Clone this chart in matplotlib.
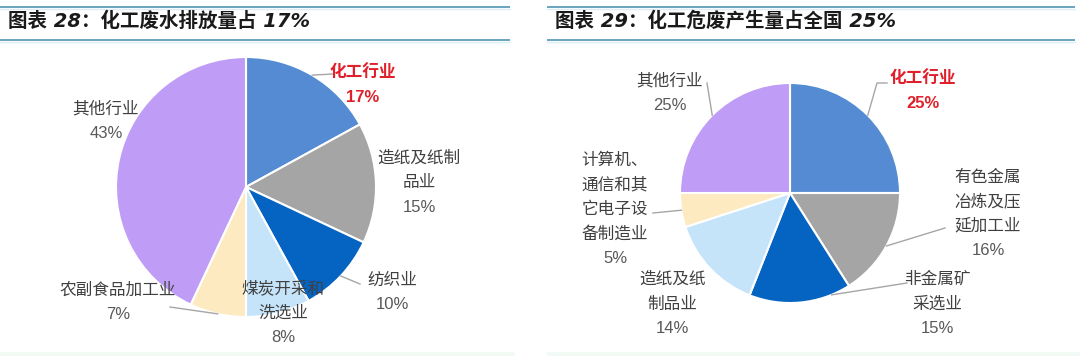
#!/usr/bin/env python3
"""
化工废水 / 危废 占比 pie charts (two panels)
"""

import numpy as np
import matplotlib
matplotlib.use('Agg')
import matplotlib.pyplot as plt

plt.rcParams['font.family'] = ['Noto Sans CJK SC', 'DejaVu Sans']

# ---- data ----
left_title = '图表 28：化工废水排放量占 17%'
left_labels = ['化工行业', '造纸及纸制\n品业', '纺织业', '煤炭开采和\n洗选业', '农副食品加工业', '其他行业']
left_values = [17, 15, 10, 8, 7, 43]

right_title = '图表 29：化工危废产生量占全国 25%'
right_labels = ['化工行业', '有色金属\n冶炼及压\n延加工业', '非金属矿\n采选业', '造纸及纸\n制品业',
                '计算机、\n通信和其\n它电子设\n备制造业', '其他行业']
right_values = [25, 16, 15, 14, 5, 25]

colors = ['#548BD2', '#A5A5A5', '#0563C1', '#C6E4F9', '#FDEAC0', '#BF9CF6']

# ---- layout (pixel units, y measured from top) ----
W, H = 1080, 356
RED = '#E0202A'
NAME_C = '#404040'
PCT_C = '#595959'
LEAD_C = '#A6A6A6'
STEP = 24.5
FS = 12

panels = [
    dict(title=left_title, labels=left_labels, values=left_values,
         center=(246, 187), radius=130, x0=0, x1=510,
         text_pos=[(363, 85.5), (419, 183), (392, 292.5), (283, 313), (118, 302.5), (106, 121.5)],
         # (slice index, label-side points, fraction along slice for wedge anchor)
         leaders=[(0, [(333, 74)], 0.5), (2, [(360, 284)], 0.5), (4, [(170, 307)], 0.5)]),
    dict(title=right_title, labels=right_labels, values=right_values,
         center=(790, 193), radius=110, x0=547, x1=1075,
         text_pos=[(923, 91), (988, 214), (937, 304), (672, 304), (615, 209.5), (670, 93)],
         leaders=[(0, [(887, 83), (877, 83)], 0.5), (1, [(945, 228)], 0.5),
                  (2, [(907, 283)], 0.19), (4, [(653, 213)], 0.5), (5, [(707, 83)], 0.5)]),
]

fig = plt.figure(figsize=(W / 100, H / 100), dpi=100)
ax = fig.add_axes([0, 0, 1, 1])

for p in panels:
    cx, cy = p['center']
    r = p['radius']
    ax.pie(p['values'], colors=colors, startangle=90, counterclock=False,
           center=(cx, H - cy), radius=r,
           wedgeprops=dict(edgecolor='white', linewidth=1.5))

    # title bar
    for yy in (7, 40):
        ax.plot([p['x0'], p['x1']], [H - yy, H - yy], color='#5E9DB8', lw=1.3,
                solid_capstyle='butt')
        ax.plot([p['x0'], p['x1']], [H - yy - 2, H - yy - 2], color='#DDEEF6', lw=1.0)
    ax.text(p['x0'] + 8, H - 21, p['title'], fontsize=14, style='italic', weight='bold',
            family=['DejaVu Sans', 'Noto Sans CJK SC'], color='#1A1A1A',
            ha='left', va='center')
    # pale strip at the bottom
    ax.fill_between([p['x0'], p['x1'] + 5], 0, 4, color='#F1FAF5', lw=0)

    # labels
    for i, (lab, val) in enumerate(zip(p['labels'], p['values'])):
        lines = lab.split('\n') + [f'{val}%']
        tx, ty = p['text_pos'][i]
        n = len(lines)
        for k, s in enumerate(lines):
            y = ty + (k - (n - 1) / 2) * STEP
            is_pct = k == n - 1
            fam = ['Liberation Sans', 'Noto Sans CJK SC'] if is_pct else None
            if i == 0:
                ax.text(tx, H - y, s, fontsize=FS, color=RED, weight='bold',
                        family=fam, ha='center', va='center')
            else:
                ax.text(tx, H - y, s, fontsize=FS, color=PCT_C if is_pct else NAME_C,
                        family=fam, ha='center', va='center')

    # leader lines
    cum = np.concatenate([[0], np.cumsum(p['values'])]) / np.sum(p['values'])
    for idx, pts, frac in p['leaders']:
        ang = np.deg2rad(90 - 360 * (cum[idx] + frac * (cum[idx + 1] - cum[idx])))
        ex, ey = cx + r * np.cos(ang), (H - cy) + r * np.sin(ang)
        xs = [q[0] for q in pts] + [ex]
        ys = [H - q[1] for q in pts] + [ey]
        ax.plot(xs, ys, color=LEAD_C, lw=1.0)

ax.set_xlim(0, W)
ax.set_ylim(0, H)
ax.set_aspect('auto')
ax.axis('off')

fig.savefig('out.png', dpi=100, facecolor='white')
